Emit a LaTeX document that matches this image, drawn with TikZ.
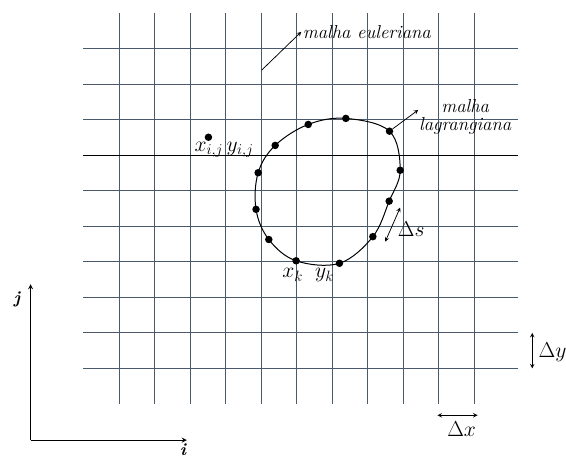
\documentclass[tikz,border=0pt]{standalone}
\usepackage{amsmath}
\usepackage{tikz}
\usetikzlibrary{arrows,calc,positioning}

\definecolor{gridblue}{RGB}{72,90,108}

\tikzset{
  gridline/.style={gridblue, line width=0.7pt},
  dot/.style={circle, fill=black, inner sep=0pt, minimum size=6pt},
  lbl/.style={font=\fontsize{15}{15}\selectfont\itshape, inner sep=1pt},
  mlbl/.style={font=\fontsize{17}{19}\selectfont, inner sep=1pt},
  pointer/.style={-stealth, line width=0.6pt},
  twoway/.style={stealth-stealth, line width=0.6pt}
}

\begin{document}
\begin{tikzpicture}[x=1cm,y=1cm]
\useasboundingbox (-3.36,-2.5) rectangle (12.58,10.375);

% eulerian grid
\foreach \i in {0,...,10}
  \draw[gridline] (\i,-1) -- (\i,10);
\foreach \j in {0,...,9}
  \draw[gridline] (-1.01,\j) -- (11.22,\j);
\draw[line width=0.7pt] (-1.01,6) -- (11.22,6);

% lagrangian points
\foreach \pt [count=\k] in {(5.32,6.87),(6.38,7.04),(7.61,6.68),(7.91,5.58),
    (7.60,4.71),(7.14,3.71),(6.20,2.96),(4.98,3.03),(4.21,3.63),(3.85,4.48),
    (3.91,5.51),(4.39,6.28)}
  \node[dot] (p\k) at \pt {};
\draw[line width=0.8pt] plot[smooth cycle, tension=0.6] coordinates {
  (p1.center) (p2.center) (p3.center) (p4.center) (p5.center) (p6.center)
  (p7.center) (p8.center) (p9.center) (p10.center) (p11.center) (p12.center)};
\node[dot] (pij) at (2.51,6.51) {};

% labels
\coordinate (euStart) at (4.01,8.40);
\node[lbl] (euler) at (6.97,9.48) {malha euleriana};
\draw[pointer] (euStart) -- (euler.west);
\node[lbl, align=center] (lagr) at (9.74,7.08) {malha\\lagrangiana};
\draw[pointer] (p3) -- (8.42,7.28);
\node[mlbl] (xij) at (2.95,6.15) {$x_{i,j}\,y_{i,j}$};
\node[mlbl] (xk) at (5.32,2.62) {$x_k\;\; y_k$};
\coordinate (dsA) at (7.49,3.57);
\coordinate (dsB) at (7.91,4.53);
\draw[twoway] (dsA) -- (dsB);
\node[mlbl] (ds) at (8.22,3.93) {$\Delta s$};

% spacing
\coordinate (dyA) at (11.63,0);
\coordinate (dyB) at (11.63,1);
\draw[twoway] (dyA) -- (dyB);
\node[mlbl] (dy) at (12.2,0.45) {$\Delta y$};
\coordinate (dxA) at (8.96,-1.32);
\coordinate (dxB) at (10.09,-1.32);
\draw[twoway] (dxA) -- (dxB);
\node[mlbl] (dx) at (9.64,-1.72) {$\Delta x$};

% axes
\coordinate (orig) at (-2.50,-2.02);
\coordinate (jtip) at (-2.50,2.37);
\coordinate (itip) at (1.90,-2.02);
\draw[pointer, line width=0.8pt] (orig) -- (jtip);
\draw[pointer, line width=0.8pt] (orig) -- (itip);
\node[lbl, font=\fontsize{14}{15}\selectfont\bfseries\itshape] (jax) at (-2.88,1.95) {j};
\node[lbl, font=\fontsize{14}{15}\selectfont\bfseries\itshape] (iax) at (1.79,-2.28) {i};
\end{tikzpicture}
\end{document}
